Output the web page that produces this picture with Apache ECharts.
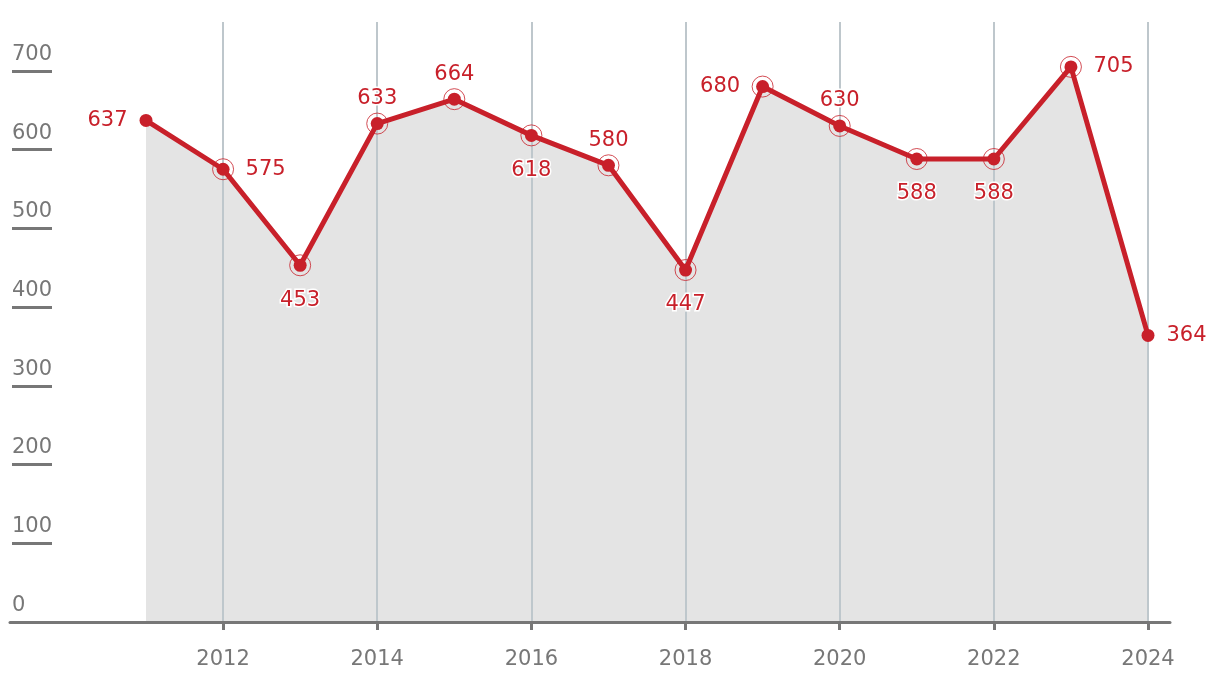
<!DOCTYPE html>
<html>
<head>
<meta charset="utf-8">
<script src="https://cdn.jsdelivr.net/npm/echarts@6/dist/echarts.min.js"></script>
<style>
  html, body { margin: 0; padding: 0; background: #fff; }
  #chart { width: 1220px; height: 682px; }
</style>
</head>
<body>
<div id="chart"></div>
<script>
// ---- data ----
const years = ['2011','2012','2013','2014','2015','2016','2017','2018','2019','2020','2021','2022','2023','2024'];
const counts = [637, 575, 453, 633, 664, 618, 580, 447, 680, 630, 588, 588, 705, 364];
const yTickValues = [100, 200, 300, 400, 500, 600, 700];
const yLabelValues = [0, 100, 200, 300, 400, 500, 600, 700];
const yMax = 762;
// label placement per point (style)
const labelSides = ['left','right','bottom','top','top','bottom','top','bottom','left','top','bottom','bottom','right','right'];

const RED = '#C8202A';
const GREY_TXT = '#777777';
const FONT = 'DejaVu Sans';
const sideDistance = { top: 8, bottom: 18, left: 12, right: 12 };

const hasRing = (i) => i !== 0 && i !== counts.length - 1;
const lineData = counts.map((v, i) => ({
  value: v,
  label: {
    position: labelSides[i],
    distance: sideDistance[labelSides[i]] + ((labelSides[i] === 'left' || labelSides[i] === 'right') && hasRing(i) ? 4 : 0)
  }
}));
const ringData = counts.map((v, i) => hasRing(i) ? v : '-');
const everyOther = (index) => index % 2 === 1;

const chart = echarts.init(document.getElementById('chart'), null, { renderer: 'canvas' });
chart.setOption({
  animation: false,
  backgroundColor: '#ffffff',
  grid: [
    { left: 146, right: 72, top: 22, bottom: 60 },
    { left: 10, right: 50, top: 22, bottom: 60 }
  ],
  xAxis: [
    {
      gridIndex: 0, type: 'category', data: years, boundaryGap: false, z: 2,
      axisLine: { show: false },
      axisTick: { show: true, interval: everyOther, length: 8, lineStyle: { color: GREY_TXT, width: 3 } },
      axisLabel: { interval: everyOther, color: GREY_TXT, fontFamily: FONT, fontSize: 21, margin: 27 },
      splitLine: { show: true, interval: everyOther, lineStyle: { color: '#BEC7CC', width: 2 } }
    },
    {
      gridIndex: 1, type: 'value', min: 0, max: 1, z: 5,
      axisLine: { show: true, lineStyle: { color: GREY_TXT, width: 3 } },
      axisTick: { show: false }, axisLabel: { show: false }, splitLine: { show: false }
    }
  ],
  yAxis: [
    {
      gridIndex: 0, type: 'value', min: 0, max: yMax, interval: 100, offset: 134,
      axisLine: { show: false },
      axisTick: { show: true, inside: true, length: 40, customValues: yTickValues, lineStyle: { color: GREY_TXT, width: 3 } },
      axisLabel: {
        inside: true, margin: 0, customValues: yLabelValues, color: GREY_TXT, fontFamily: FONT, fontSize: 21,
        verticalAlign: 'bottom', align: 'left', lineHeight: 21, padding: [0, 0, 6, 0]
      },
      splitLine: { show: false }
    },
    { gridIndex: 1, type: 'value', show: false, min: 0, max: 1 }
  ],
  series: [
    {
      type: 'line', xAxisIndex: 0, yAxisIndex: 0, data: counts, z: 1,
      symbol: 'none', lineStyle: { width: 0 },
      areaStyle: { color: '#E4E4E4', opacity: 1 }, silent: true
    },
    {
      type: 'line', xAxisIndex: 0, yAxisIndex: 0, data: lineData, z: 3,
      symbol: 'circle', symbolSize: 13,
      lineStyle: { color: RED, width: 5 },
      itemStyle: { color: RED },
      label: {
        show: true, color: RED, fontFamily: FONT, fontSize: 21, lineHeight: 21,
        textBorderColor: '#ffffff', textBorderWidth: 3
      }
    },
    {
      type: 'scatter', xAxisIndex: 0, yAxisIndex: 0, data: ringData, z: 4,
      symbol: 'circle', symbolSize: 21,
      itemStyle: { color: 'rgba(0,0,0,0)', borderColor: RED, borderWidth: 1 },
      silent: true
    }
  ]
});
</script>
</body>
</html>
